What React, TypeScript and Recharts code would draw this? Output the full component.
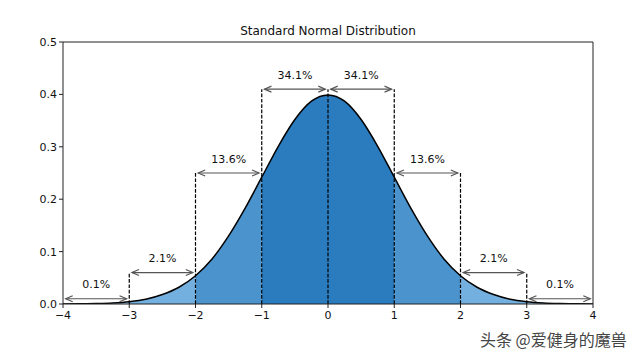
import React from 'react';
import { ComposedChart, Area, Line, XAxis, YAxis, ReferenceLine } from 'recharts';

const xs = [
  -4, -3.75, -3.5, -3.25, -3, -2.75, -2.5, -2.25, -2, -1.75, -1.5, -1.25, -1, -0.75, -0.5, -0.25,
  0, 0.25, 0.5, 0.75, 1, 1.25, 1.5, 1.75, 2, 2.25, 2.5, 2.75, 3, 3.25, 3.5, 3.75, 4,
];
const density = [
  0.0001, 0.0004, 0.0009, 0.002, 0.0044, 0.009, 0.018, 0.032, 0.054, 0.086, 0.13, 0.183, 0.242, 0.301, 0.352, 0.387,
  0.399, 0.387, 0.352, 0.301, 0.242, 0.183, 0.13, 0.086, 0.054, 0.032, 0.018, 0.009, 0.0044, 0.002, 0.0009, 0.0004, 0.0001,
];
const xTicks = [-4, -3, -2, -1, 0, 1, 2, 3, 4];
const yTicks = [0, 0.1, 0.2, 0.3, 0.4, 0.5];

// bands: [innerEdge, outerEdge] of |x|
const bandKeys = ['center', 'inner', 'mid', 'tail'];
const bandEdges = [
  [0, 1],
  [1, 2],
  [2, 3],
  [3, 4],
];
const bandColors = ['#2b7bbf', '#4b93cd', '#74b0df', '#a8cdec'];

const dashedX = [-3, -2, -1, 0, 1, 2, 3];
const dashedTop = [0.06, 0.25, 0.41, 0.41, 0.41, 0.25, 0.06];

const arrowFrom = [-4, -3, -2, -1, 0, 1, 2, 3];
const arrowTo = [-3, -2, -1, 0, 1, 2, 3, 4];
const arrowLevel = [0.01, 0.06, 0.25, 0.41, 0.41, 0.25, 0.06, 0.01];
const arrowLabels = ['0.1%', '2.1%', '13.6%', '34.1%', '34.1%', '13.6%', '2.1%', '0.1%'];

const data = xs.map((x, i) => {
  const row: Record<string, number | null> = { x, y: density[i] };
  bandKeys.forEach((k, b) => {
    const a = Math.abs(x);
    row[k] = a >= bandEdges[b][0] && a <= bandEdges[b][1] ? density[i] : null;
  });
  return row;
});

const FONT = '"DejaVu Sans", sans-serif';

function ArrowMark(props: any) {
  const { x1, y1, x2, text } = props;
  const gap = 2.7;
  const ax = x1 + gap;
  const bx = x2 - gap;
  const y = y1;
  const hl = 7;
  const hw = 3;
  const col = '#555';
  return (
    <g>
      <line x1={ax} y1={y} x2={bx} y2={y} stroke={col} strokeWidth={1.2} />
      <polyline points={`${ax + hl},${y - hw} ${ax},${y} ${ax + hl},${y + hw}`} fill="none" stroke={col} strokeWidth={1.2} />
      <polyline points={`${bx - hl},${y - hw} ${bx},${y} ${bx - hl},${y + hw}`} fill="none" stroke={col} strokeWidth={1.2} />
      <text x={(x1 + x2) / 2} y={y - 14} textAnchor="middle" dominantBaseline="central" fontFamily={FONT} fontSize={11} fill="#111">
        {text}
      </text>
    </g>
  );
}

export default function App() {
  return (
    <div style={{ position: 'absolute', left: 0, top: 0, width: 640, height: 360, background: '#fff' }}>
      <div
        style={{
          position: 'absolute',
          left: 63,
          width: 530,
          top: 24,
          textAlign: 'center',
          fontFamily: FONT,
          fontSize: 12,
          color: '#111',
        }}
      >
        Standard Normal Distribution
      </div>
      <ComposedChart width={640} height={360} data={data} margin={{ top: 42, right: 47, bottom: 0, left: 0 }}>
        <XAxis
          type="number"
          dataKey="x"
          domain={[-4, 4]}
          ticks={xTicks}
          allowDataOverflow
          height={56}
          tickSize={4}
          tickMargin={3}
          stroke="#222"
          tick={{ fill: '#111', fontSize: 11, fontFamily: FONT }}
          tickFormatter={(v: number) => String(v).replace('-', '\u2212')}
        />
        <YAxis
          type="number"
          domain={[0, 0.5]}
          ticks={yTicks}
          allowDataOverflow
          width={63}
          tickSize={4}
          tickMargin={2}
          stroke="#222"
          tick={{ fill: '#111', fontSize: 11, fontFamily: FONT }}
          tickFormatter={(v: number) => v.toFixed(1)}
        />
        {bandKeys.map((k, b) => (
          <Area
            key={k}
            dataKey={k}
            type="monotone"
            fill={bandColors[b]}
            fillOpacity={1}
            stroke="none"
            baseValue={0}
            connectNulls={false}
            isAnimationActive={false}
            dot={false}
            activeDot={false}
          />
        ))}
        <Line dataKey="y" type="monotone" stroke="#000" strokeWidth={1.5} dot={false} activeDot={false} isAnimationActive={false} />
        {dashedX.map((x, i) => (
          <ReferenceLine
            key={'d' + i}
            segment={[
              { x, y: 0 },
              { x, y: dashedTop[i] },
            ]}
            stroke="#000"
            strokeWidth={1.2}
            strokeDasharray="3.7 1.6"
          />
        ))}
        {arrowFrom.map((f, i) => (
          <ReferenceLine
            key={'a' + i}
            segment={[
              { x: f, y: arrowLevel[i] },
              { x: arrowTo[i], y: arrowLevel[i] },
            ]}
            shape={(p: any) => <ArrowMark {...p} text={arrowLabels[i]} />}
          />
        ))}
        <ReferenceLine y={0.5} stroke="#222" strokeWidth={1} />
        <ReferenceLine x={4} stroke="#222" strokeWidth={1} />
      </ComposedChart>
      <div
        style={{
          position: 'absolute',
          left: 480,
          top: 327,
          fontFamily: '"Noto Sans CJK SC", sans-serif',
          fontSize: 16,
          color: '#444',
          whiteSpace: 'nowrap',
          textShadow: '0 0 2px #fff',
        }}
      >
        头条 @爱健身的魔兽
      </div>
    </div>
  );
}
